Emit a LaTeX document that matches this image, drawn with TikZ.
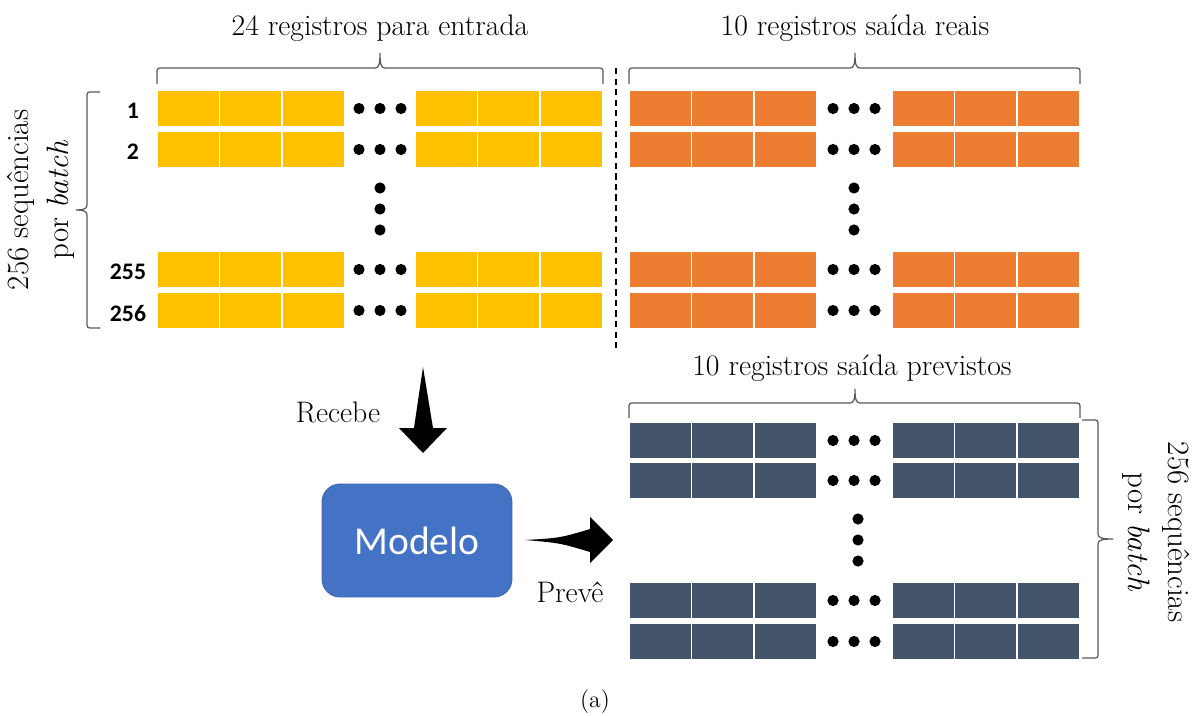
\documentclass[tikz,border=0pt]{standalone}
\usepackage{fontspec}
\newfontfamily\calibrifont{Carlito}
\definecolor{cyellow}{HTML}{FFC000}
\definecolor{corange}{HTML}{ED7D31}
\definecolor{cdark}{HTML}{44546A}
\definecolor{cblue}{HTML}{4472C4}
\definecolor{cbluedark}{HTML}{3B64AE}
\newcommand\regrow[4]{% color, x left group, x right group, y top
  \foreach \i in {0,1,2}{
    \filldraw[cell,fill=#1] ({#2+\i*62.5},#4) rectangle ++(62.5,37);
    \filldraw[cell,fill=#1] ({#3+\i*62.5},#4) rectangle ++(62.5,37);
  }
}
\newcommand\hdots[2]{% x center, y center
  \foreach \d in {-21,0,21}{\fill ({#1+\d},#2) circle[radius=0.112cm];}
}
\newcommand\vdotsx[2]{% x center, y center
  \foreach \d in {-21,0,21}{\fill (#1,{#2+\d}) circle[radius=0.112cm];}
}
\newcommand\hbrace[6]{% x0, x1, xm, ybase, yline, ytip
  \draw[bracestyle] (#1,#4) -- (#1,#5+6) .. controls (#1,#5) .. (#1+6,#5) -- (#3-5,#5)
    .. controls (#3-1,#5) and (#3,#5-4) .. (#3,#6)
    .. controls (#3,#5-4) and (#3+1,#5) .. (#3+5,#5) -- (#2-6,#5)
    .. controls (#2,#5) .. (#2,#5+6) -- (#2,#4);
}
\begin{document}
\begin{tikzpicture}[x=0.02cm,y=-0.02cm,
  cell/.style={draw=white,line width=0.6pt},
  bracestyle/.style={draw=black!65,line width=0.7pt},
  lbl/.style={font=\fontsize{16.9}{22}\selectfont,inner sep=0pt},
  rlbl/.style={font=\fontsize{17.6}{22.6}\selectfont,inner sep=0pt,align=center},
  num/.style={font=\calibrifont\bfseries\fontsize{13.5}{16}\selectfont,inner sep=0pt},
  fatarrow/.style={fill=black}]
\useasboundingbox (0,0) rectangle (1194,716);

% yellow input block
\foreach \y in {90,131,251,292}{\regrow{cyellow}{157}{415}{\y}}
\foreach \y in {108.5,149.5,269.5,310.5}{\hdots{380}{\y}}
\vdotsx{380}{209}

% orange real output block
\foreach \y in {90,131,251,292}{\regrow{corange}{629}{892}{\y}}
\foreach \y in {108.5,149.5,269.5,310.5}{\hdots{854}{\y}}
\vdotsx{854}{209}

% dark predicted output block
\foreach \y in {422,462,582,623}{\regrow{cdark}{629}{892}{\y}}
\foreach \y in {440.5,480.5,600.5,641.5}{\hdots{854}{\y}}
\vdotsx{858}{540}

% row numbers
\node[num] (n1) at (133,111) {1};
\node[num] (n2) at (133,152) {2};
\node[num] (n255) at (128,272) {255};
\node[num] (n256) at (128,313) {256};

% dashed separator
\coordinate (sepTop) at (616,68);
\coordinate (sepBot) at (616,350);
\draw[dashed,line width=0.6pt,dash pattern=on 3.5pt off 2.5pt] (sepTop) -- (sepBot);

% horizontal braces
\hbrace{157}{603}{380}{84}{68}{53}
\hbrace{629}{1080}{855}{84}{68}{53}
\hbrace{629}{1080}{855}{418}{403}{389}

% vertical braces
\draw[bracestyle] (100,92) -- (93,92) .. controls (87,92) .. (87,98) -- (87,205)
  .. controls (87,209) and (83,210) .. (76,210)
  .. controls (83,210) and (87,211) .. (87,215) -- (87,322)
  .. controls (87,328) .. (93,328) -- (100,328);
\draw[bracestyle] (1082,420) -- (1092,420) .. controls (1098,420) .. (1098,426) -- (1098,534)
  .. controls (1098,538) and (1102,539) .. (1113,539)
  .. controls (1102,539) and (1098,540) .. (1098,544) -- (1098,652)
  .. controls (1098,658) .. (1092,658) -- (1082,658);

% labels
\node[lbl,anchor=base] (tIn) at (380,36) {24 registros para entrada};
\node[lbl,anchor=base] (tReal) at (855,36) {10 registros saída reais};
\node[lbl,anchor=base] (tPred) at (852,376) {10 registros saída previstos};
\node[rlbl,rotate=90] (tLeft) at (41,200) {256 sequências\\por \textit{batch}};
\node[rlbl,rotate=-90] (tRight) at (1156,532) {256 sequências\\por \textit{batch}};

% model
\node[fill=cblue,draw=cbluedark,line width=0.5pt,rounded corners=0.36cm,
  minimum width=3.8cm,minimum height=2.26cm,text=white,
  font=\calibrifont\fontsize{22.5}{26}\selectfont] (modelo) at (417,540.5) {Modelo};

% arrows
\coordinate (recvTail) at (423,367);
\coordinate (recvTip) at (423,453);
\fill[fatarrow] (recvTail) -- (433,428) -- (447,428) -- (recvTip) -- (399,428) -- (414,428) -- cycle;
\coordinate (predTail) at (525,540);
\coordinate (predTip) at (613,540);
\fill[fatarrow] (predTail) .. controls (560,538) .. (590,529) -- (590,517) -- (predTip) -- (590,563) -- (590,552) .. controls (560,543) .. (predTail) -- cycle;
\node[lbl] (recebe) at (338,412) {Recebe};
\node[lbl] (preve) at (570,592) {Prevê};

% caption
\node[font=\fontsize{13.5}{16}\selectfont,inner sep=0pt,anchor=base] (cap) at (595,707) {(a)};
\end{tikzpicture}
\end{document}
